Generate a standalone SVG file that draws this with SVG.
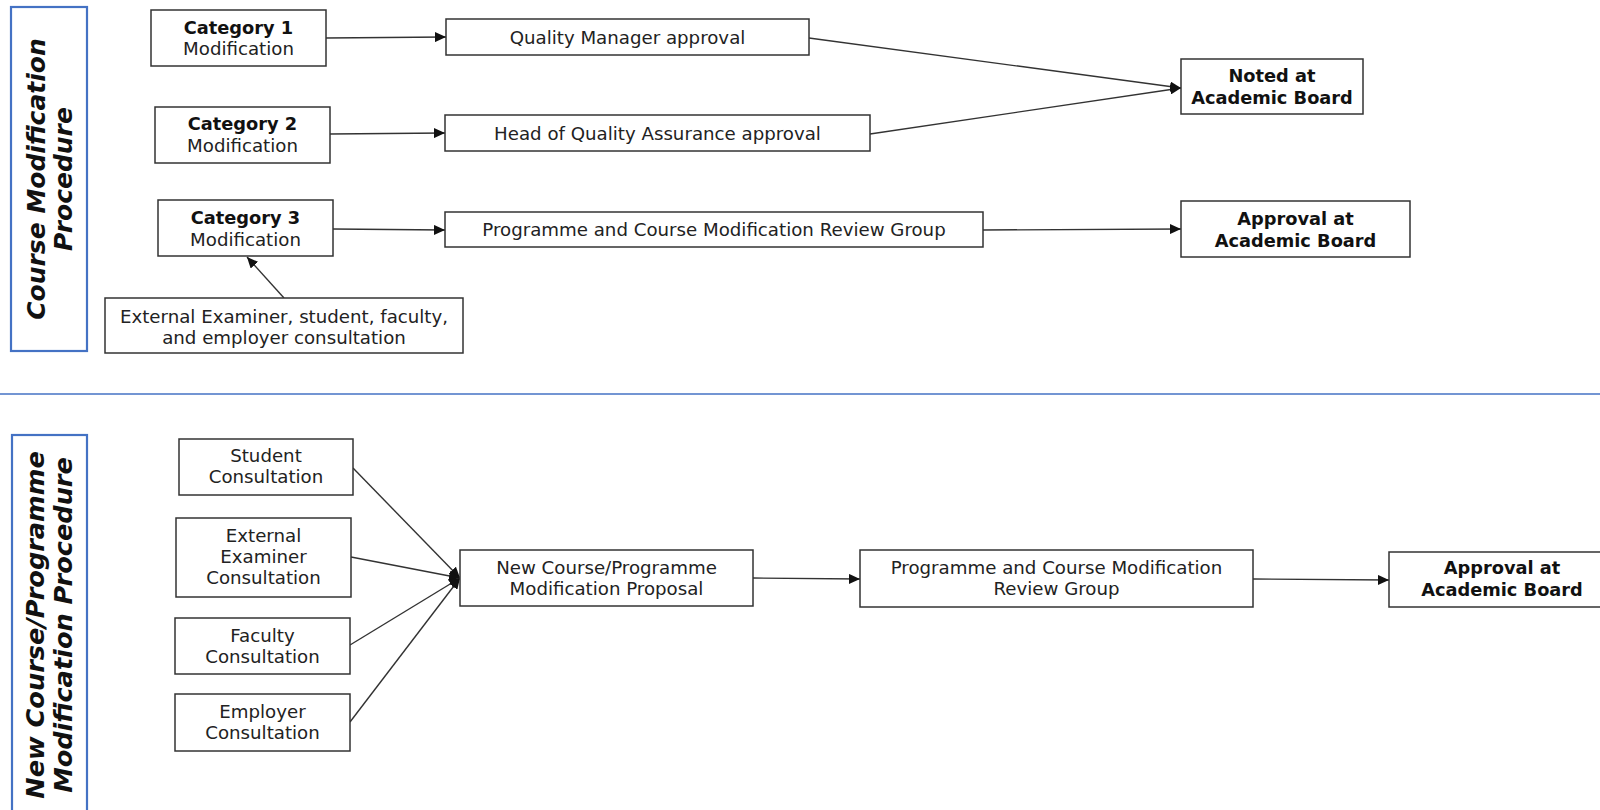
<svg xmlns="http://www.w3.org/2000/svg" width="1600" height="810" viewBox="0 0 1600 810">
<defs>
<marker id="arr" markerUnits="userSpaceOnUse" markerWidth="12" markerHeight="10" refX="11" refY="5" orient="auto">
<path d="M0,0 L11,5 L0,10 Z" fill="#111"/>
</marker>
<style>
.box{fill:#fff;stroke:#333;stroke-width:1.5}
.lane{fill:#fff;stroke:#4472c4;stroke-width:2.2}
.t{font-family:"DejaVu Sans",Verdana,sans-serif;font-size:18.2px;fill:#222;text-anchor:middle}
.b{font-weight:bold;fill:#111;font-size:17.8px}
.title{font-family:"DejaVu Sans",Verdana,sans-serif;font-size:25px;font-weight:bold;font-style:italic;fill:#111;text-anchor:middle}
.c{stroke:#333;stroke-width:1.4;fill:none;marker-end:url(#arr)}
</style>
</defs>
<rect width="1600" height="810" fill="#fff"/>
<line x1="0" y1="394" x2="1600" y2="394" stroke="#4472c4" stroke-width="1.5"/>

<g id="lane-top">
<rect class="lane" x="11" y="7" width="76" height="344"/>
<text class="title" transform="translate(45,179) rotate(-90)">Course Modification<tspan x="0" dy="27">Procedure</tspan></text>
</g>
<g id="lane-bottom">
<rect class="lane" x="12" y="435" width="75" height="385"/>
<text class="title" style="font-size:25.6px" transform="translate(44,625) rotate(-90)">New Course/Programme<tspan x="0" dy="28">Modification Procedure</tspan></text>
</g>

<g id="connectors">
<line class="c" x1="326" y1="38" x2="446" y2="37"/>
<line class="c" x1="330" y1="134" x2="445" y2="133"/>
<line class="c" x1="333" y1="229" x2="445" y2="230"/>
<line class="c" x1="284" y1="298" x2="247" y2="257"/>
<line class="c" x1="809" y1="38" x2="1181" y2="88"/>
<line class="c" x1="870" y1="134" x2="1181" y2="88"/>
<line class="c" x1="983" y1="230" x2="1181" y2="229"/>
<line class="c" x1="353" y1="468" x2="460" y2="578"/>
<line class="c" x1="351" y1="557" x2="460" y2="578"/>
<line class="c" x1="350" y1="645" x2="460" y2="578"/>
<line class="c" x1="350" y1="722" x2="460" y2="578"/>
<line class="c" x1="753" y1="578" x2="860" y2="579"/>
<line class="c" x1="1253" y1="579" x2="1389" y2="580"/>
</g>

<g id="cat1"><rect class="box" x="151" y="10" width="175" height="56"/>
<text class="t" x="238.5" y="34"><tspan class="b">Category 1</tspan><tspan x="238.5" dy="21">Modification</tspan></text></g>
<g id="cat2"><rect class="box" x="155" y="107" width="175" height="56"/>
<text class="t" x="242.5" y="130"><tspan class="b">Category 2</tspan><tspan x="242.5" dy="22">Modification</tspan></text></g>
<g id="cat3"><rect class="box" x="158" y="200" width="175" height="56"/>
<text class="t" x="245.5" y="224"><tspan class="b">Category 3</tspan><tspan x="245.5" dy="22">Modification</tspan></text></g>
<g id="ext"><rect class="box" x="105" y="298" width="358" height="55"/>
<text class="t" x="284" y="323">External Examiner, student, faculty,<tspan x="284" dy="21">and employer consultation</tspan></text></g>

<g id="qm"><rect class="box" x="446" y="19" width="363" height="36"/>
<text class="t" x="627.5" y="44">Quality Manager approval</text></g>
<g id="hqa"><rect class="box" x="445" y="115" width="425" height="36"/>
<text class="t" x="657.5" y="140">Head of Quality Assurance approval</text></g>
<g id="pcmrg1"><rect class="box" x="445" y="212" width="538" height="35"/>
<text class="t" x="714" y="236">Programme and Course Modification Review Group</text></g>

<g id="noted"><rect class="box" x="1181" y="59" width="182" height="55"/>
<text class="t b" x="1272" y="82">Noted at<tspan x="1272" dy="22">Academic Board</tspan></text></g>
<g id="approval1"><rect class="box" x="1181" y="201" width="229" height="56"/>
<text class="t b" x="1295.5" y="225">Approval at<tspan x="1295.5" dy="22">Academic Board</tspan></text></g>

<g id="student"><rect class="box" x="179" y="439" width="174" height="56"/>
<text class="t" x="266" y="462">Student<tspan x="266" dy="21">Consultation</tspan></text></g>
<g id="extexam"><rect class="box" x="176" y="518" width="175" height="79"/>
<text class="t" x="263.5" y="542">External<tspan x="263.5" dy="21">Examiner</tspan><tspan x="263.5" dy="21">Consultation</tspan></text></g>
<g id="faculty"><rect class="box" x="175" y="618" width="175" height="56"/>
<text class="t" x="262.5" y="642">Faculty<tspan x="262.5" dy="21">Consultation</tspan></text></g>
<g id="employer"><rect class="box" x="175" y="694" width="175" height="57"/>
<text class="t" x="262.5" y="718">Employer<tspan x="262.5" dy="21">Consultation</tspan></text></g>

<g id="ncp"><rect class="box" x="460" y="550" width="293" height="56"/>
<text class="t" x="606.5" y="574">New Course/Programme<tspan x="606.5" dy="21">Modification Proposal</tspan></text></g>
<g id="pcmrg2"><rect class="box" x="860" y="550" width="393" height="57"/>
<text class="t" x="1056.5" y="574">Programme and Course Modification<tspan x="1056.5" dy="21">Review Group</tspan></text></g>
<g id="approval2"><rect class="box" x="1389" y="552" width="226" height="55"/>
<text class="t b" x="1502" y="574">Approval at<tspan x="1502" dy="22">Academic Board</tspan></text></g>
</svg>
